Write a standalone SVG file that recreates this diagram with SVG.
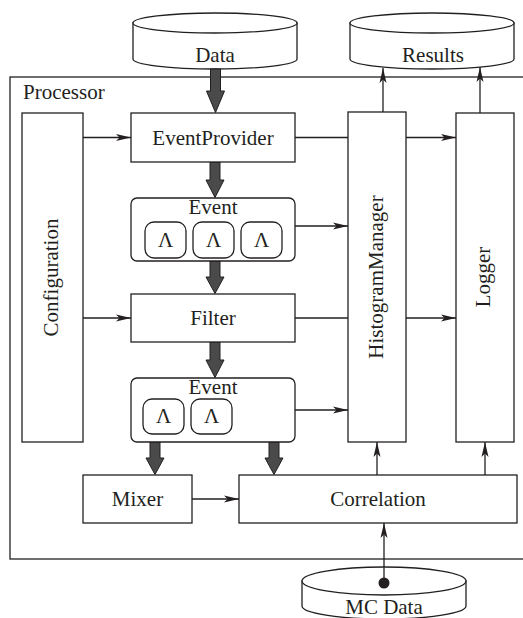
<svg xmlns="http://www.w3.org/2000/svg" width="523" height="618" viewBox="0 0 523 618">
<style>
text{font-family:'Liberation Serif','Times New Roman',Times,'DejaVu Serif',serif;font-size:21px;fill:#231f20}
.c{text-anchor:middle}
.box{fill:#fff;stroke:#231f20;stroke-width:1.3}
.ln{fill:none;stroke:#231f20;stroke-width:1.3}
.arr{marker-end:url(#ah)}
.thick{fill:#4a4a4a;stroke:#231f20;stroke-width:1;stroke-linejoin:miter}
</style>
<defs>
<marker id="ah" markerUnits="userSpaceOnUse" markerWidth="15" markerHeight="8" viewBox="0 0 15 8" refX="15" refY="4" orient="auto">
<path d="M0,0.5 L15,4 L0,7.5 L3.5,4 z" fill="#231f20"/>
</marker>
</defs>
<rect width="523" height="618" fill="#fff"/>

<g id="processor">
<rect x="10" y="77" width="525" height="482" fill="none" stroke="#231f20" stroke-width="1.3"/>
<text x="23" y="99" font-family="Liberation Serif, serif">Processor</text>
</g>

<g id="data">
<path class="box" d="M133,23 L133,59 A82,10 0 0 0 297,59 L297,23 z"/>
<ellipse class="box" cx="215" cy="23" rx="82" ry="10"/>
<text class="c" x="215" y="62">Data</text>
</g>

<g id="results">
<path class="box" d="M350,23 L350,59 A82,10 0 0 0 514,59 L514,23 z"/>
<ellipse class="box" cx="432" cy="23" rx="82" ry="10"/>
<text class="c" x="433" y="62">Results</text>
</g>

<g id="mcdata">
<path class="box" d="M302,581 L302,606 A82,13 0 0 0 466,606 L466,581 z"/>
<ellipse class="box" cx="384" cy="581" rx="82" ry="14"/>
<text class="c" x="384" y="614">MC Data</text>
</g>

<g id="connectors">
<line class="ln arr" x1="83" y1="137.5" x2="131" y2="137.5"/>
<line class="ln arr" x1="83" y1="318" x2="131" y2="318"/>
<line class="ln arr" x1="295" y1="137.5" x2="456" y2="137.5"/>
<line class="ln arr" x1="295" y1="318" x2="456" y2="318"/>
<line class="ln arr" x1="295" y1="226" x2="348" y2="226"/>
<line class="ln arr" x1="295" y1="410" x2="348" y2="410"/>
<line class="ln arr" x1="383" y1="112" x2="383" y2="68"/>
<line class="ln arr" x1="480" y1="113" x2="480" y2="67"/>
<line class="ln arr" x1="377" y1="475" x2="377" y2="442"/>
<line class="ln arr" x1="485" y1="475" x2="485" y2="442"/>
<line class="ln arr" x1="192" y1="499" x2="239" y2="499"/>
<line class="ln arr" x1="384" y1="583" x2="384" y2="523"/>
<circle cx="384" cy="583" r="5.5" fill="#231f20"/>
<polygon class="thick" points="210.5,69 220.5,69 220.5,91 224.5,91 215.5,112.5 206.5,91 210.5,91"/>
<polygon class="thick" points="210,162 220,162 220,180 224,180 215,197.5 206,180 210,180"/>
<polygon class="thick" points="210,261 220,261 220,277 224,277 215,293.5 206,277 210,277"/>
<polygon class="thick" points="210,342 220,342 220,360 224,360 215,377.5 206,360 210,360"/>
<polygon class="thick" points="150,442 160,442 160,458 164,458 155,474.5 146,458 150,458"/>
<polygon class="thick" points="269,442 279,442 279,458 283,458 274,474.5 265,458 269,458"/>
</g>

<g id="configuration">
<rect class="box" x="22" y="113" width="61" height="329"/>
<text class="c" transform="translate(57.5,277.5) rotate(-90)">Configuration</text>
</g>

<g id="eventprovider">
<rect class="box" x="131" y="113" width="164" height="49"/>
<text class="c" x="213" y="145">EventProvider</text>
</g>

<g id="event1">
<rect class="box" x="131" y="198" width="164" height="63" rx="6"/>
<text class="c" x="213" y="214">Event</text>
<rect class="box" x="145" y="222" width="41" height="36" rx="9"/>
<rect class="box" x="193" y="222" width="41" height="36" rx="9"/>
<rect class="box" x="241" y="222" width="41" height="36" rx="9"/>
<text class="c" x="165.5" y="247">Λ</text>
<text class="c" x="213.5" y="247">Λ</text>
<text class="c" x="261.5" y="247">Λ</text>
</g>

<g id="filter">
<rect class="box" x="131" y="294" width="164" height="48"/>
<text class="c" x="213" y="325">Filter</text>
</g>

<g id="event2">
<rect class="box" x="131" y="378" width="164" height="64" rx="6"/>
<text class="c" x="213" y="394">Event</text>
<rect class="box" x="143" y="399" width="41" height="35" rx="9"/>
<rect class="box" x="191" y="399" width="41" height="35" rx="9"/>
<text class="c" x="163.5" y="423">Λ</text>
<text class="c" x="211.5" y="423">Λ</text>
</g>

<g id="histogrammanager">
<rect class="box" x="348" y="112" width="58" height="330"/>
<text class="c" transform="translate(382.5,277) rotate(-90)">HistogramManager</text>
</g>

<g id="logger">
<rect class="box" x="456" y="113" width="58" height="329"/>
<text class="c" transform="translate(490,277) rotate(-90)">Logger</text>
</g>

<g id="mixer">
<rect class="box" x="83" y="475" width="109" height="48"/>
<text class="c" x="137.5" y="506">Mixer</text>
</g>

<g id="correlation">
<rect class="box" x="239" y="475" width="278" height="48"/>
<text class="c" x="378" y="506">Correlation</text>
</g>
</svg>
